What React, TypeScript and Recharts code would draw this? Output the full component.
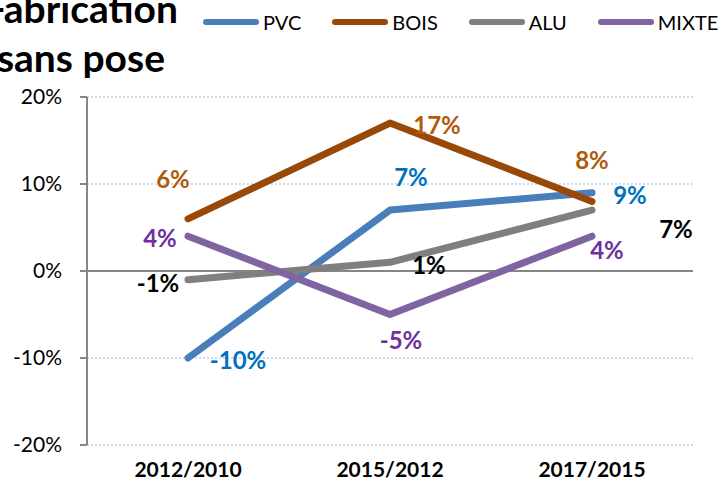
import { CartesianGrid, LabelList, Line, LineChart, ReferenceLine, XAxis, YAxis } from 'recharts';

const periods = ['2012/2010', '2015/2012', '2017/2015'];
const pvc = [-10, 7, 9];
const bois = [6, 17, 8];
const alu = [-1, 1, 7];
const mixte = [4, -5, 4];
const yTicks = [-20, -10, 0, 10, 20];

const data = periods.map((period, i) => ({
  period,
  PVC: pvc[i],
  BOIS: bois[i],
  ALU: alu[i],
  MIXTE: mixte[i],
}));

// label offsets (dx, dy) from each point, as placed in the original
const series = [
  { key: 'PVC', stroke: '#4A7EBB', label: '#0070C0', offsets: [[50, 2], [21, -33], [38, 2]] },
  { key: 'BOIS', stroke: '#984807', label: '#B05A0C', offsets: [[-15, -40], [47, 2], [0, -41]] },
  { key: 'ALU', stroke: '#7F7F7F', label: '#000000', offsets: [[-30, 3], [39, 3], [84, 19]] },
  { key: 'MIXTE', stroke: '#8064A2', label: '#7030A0', offsets: [[-28, 2], [11, 25], [15, 14]] },
];

const FONT = 'Lato, "Open Sans", sans-serif';

const makeLabel = (color: string, offsets: number[][]) => (props: any) => {
  const { x, y, value, index } = props;
  const [dx, dy] = offsets[index] || [0, 0];
  return (
    <text
      x={x + dx}
      y={y + dy + 9}
      fill={color}
      textAnchor="middle"
      fontSize={24}
      fontWeight={700}
      fontFamily={FONT}
    >
      {`${value}%`}
    </text>
  );
};

export default function App() {
  return (
    <div style={{ position: 'absolute', left: 0, top: 0, width: 719, height: 491, background: '#fff', fontFamily: FONT }}>
      <LineChart width={719} height={491} data={data} margin={{ top: 97, right: 26, bottom: 0, left: 7 }}>
        <CartesianGrid vertical={false} stroke="#9DB9DE" strokeDasharray="2 2" />
        <XAxis
          dataKey="period"
          padding={{ left: 101, right: 101 }}
          axisLine={false}
          tickLine={false}
          tickSize={0}
          tickMargin={17}
          height={46}
          tick={{ fill: '#000', fontSize: 21, fontWeight: 700, fontFamily: FONT }}
        />
        <YAxis
          domain={[-20, 20]}
          ticks={yTicks}
          interval={0}
          width={80}
          tickFormatter={(v: number) => `${v}%`}
          axisLine={{ stroke: '#868686', strokeWidth: 2 }}
          tickLine={{ stroke: '#868686', strokeWidth: 2 }}
          tickSize={7}
          tickMargin={18}
          tick={{ fill: '#000', fontSize: 21, fontFamily: FONT }}
        />
        <ReferenceLine y={0} stroke="#868686" strokeWidth={2} />
        {series.map((s) => (
          <Line
            key={s.key}
            type="linear"
            dataKey={s.key}
            stroke={s.stroke}
            strokeWidth={7}
            strokeLinecap="round"
            strokeLinejoin="round"
            dot={false}
            activeDot={false}
            isAnimationActive={false}
          >
            <LabelList dataKey={s.key} content={makeLabel(s.label, s.offsets)} />
          </Line>
        ))}
      </LineChart>

      <svg width={719} height={100} style={{ position: 'absolute', left: 0, top: 0, pointerEvents: 'none' }}>
        <text x={178} y={23} textAnchor="end" fontSize={39} fontWeight={700} fontFamily={FONT} fill="#000">
          Fabrication
        </text>
        <text x={165} y={72} textAnchor="end" fontSize={39} fontWeight={700} fontFamily={FONT} fill="#000">
          sans pose
        </text>
      </svg>

      <div
        style={{
          position: 'absolute',
          left: 202,
          top: 10,
          display: 'flex',
          gap: 30,
          alignItems: 'center',
          whiteSpace: 'nowrap',
          fontSize: 20,
          color: '#000',
        }}
      >
        {series.map((s) => (
          <div key={s.key} style={{ display: 'flex', alignItems: 'center', gap: 3 }}>
            <svg width={58} height={10}>
              <line x1={4} y1={5} x2={54} y2={5} stroke={s.stroke} strokeWidth={6} strokeLinecap="round" />
            </svg>
            <span>{s.key}</span>
          </div>
        ))}
      </div>
    </div>
  );
}
